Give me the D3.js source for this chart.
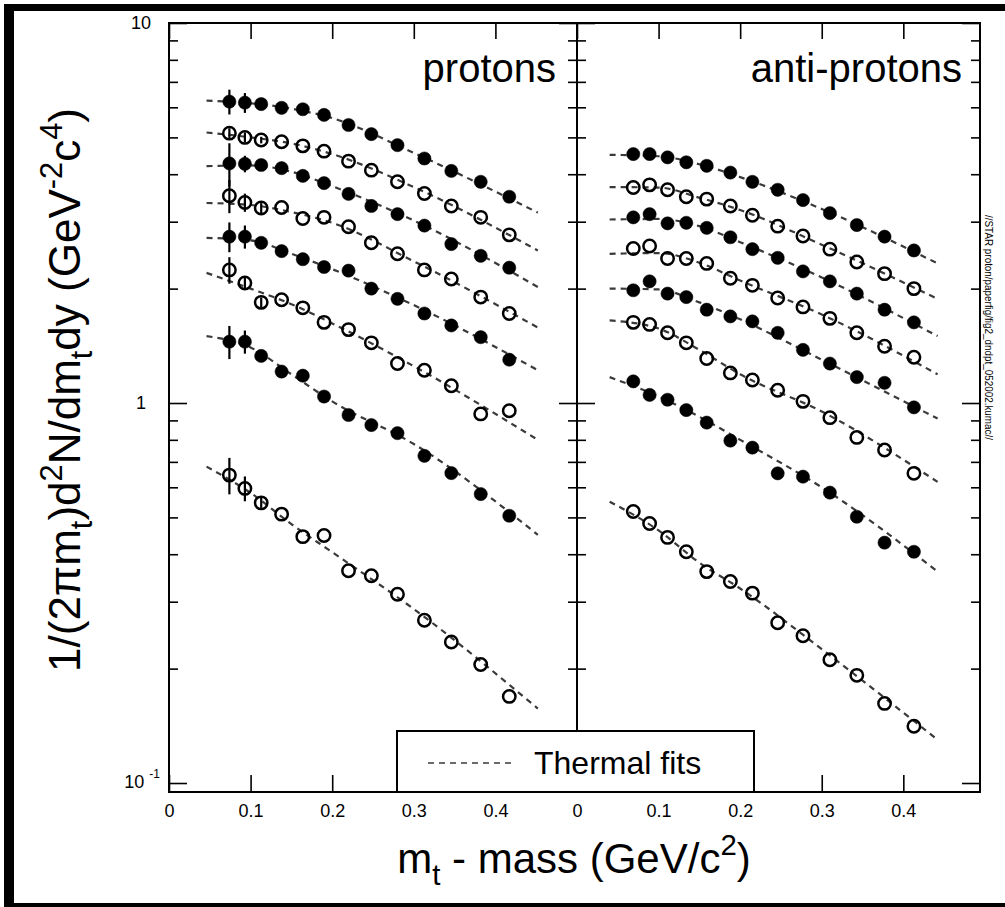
<!DOCTYPE html>
<html><head><meta charset="utf-8">
<script src="https://cdn.jsdelivr.net/npm/d3@7"></script>
<style>
body{margin:0;background:#fff}
svg{display:block}
text{font-family:"Liberation Sans",Arial,Helvetica,sans-serif;fill:#000}
</style>
</head><body><svg id="c" width="1005" height="907"></svg>
<script>
// ---------------- data ----------------
const xProtons = [0.074,0.093,0.113,0.138,0.164,0.190,0.220,0.248,0.280,0.313,0.346,0.382,0.417];
const xAntiProtons = [0.069,0.089,0.111,0.134,0.159,0.188,0.215,0.246,0.277,0.310,0.343,0.377,0.413];

const protons1 = [6.21,6.17,6.12,5.98,5.93,5.73,5.39,5.10,4.77,4.40,4.08,3.82,3.49];
const protons2 = [5.13,5.00,4.92,4.87,4.75,4.60,4.33,4.10,3.82,3.56,3.30,3.08,2.77];
const protons3 = [4.27,4.26,4.23,4.15,3.96,3.79,3.55,3.30,3.14,2.93,2.62,2.44,2.27];
const protons4 = [3.51,3.37,3.26,3.27,3.06,3.08,2.91,2.64,2.47,2.24,2.12,1.90,1.72];
const protons5 = [2.74,2.74,2.64,2.51,2.39,2.28,2.23,2.00,1.88,1.72,1.60,1.49,1.30];
const protons6 = [2.24,2.07,1.84,1.87,1.78,1.63,1.56,1.44,1.27,1.22,1.11,0.936,0.954];
const protons7 = [1.45,1.45,1.33,1.21,1.18,1.04,0.930,0.875,0.833,0.726,0.654,0.576,0.505];
const protons8 = [0.646,0.596,0.546,0.510,0.445,0.448,0.362,0.351,0.314,0.268,0.235,0.205,0.169];

// relative errors of the first points (others are hidden by markers)
const protonErr1 = [0.075,0.06,0.03];
const protonErr2 = [0.03,0.03,0.02];
const protonErr3 = [0.13,0.05,0.03];
const protonErr4 = [0.10,0.055,0.03];
const protonErr5 = [0.09,0.07,0.03];
const protonErr6 = [0.08,0.04,0.03];
const protonErr7 = [0.10,0.07,0.03];
const protonErr8 = [0.11,0.075,0.03];

const anti1 = [4.52,4.52,4.43,4.30,4.21,4.04,3.82,3.64,3.42,3.16,2.94,2.74,2.52];
const anti2 = [3.69,3.75,3.64,3.49,3.44,3.30,3.12,2.92,2.75,2.54,2.35,2.19,2.00];
const anti3 = [3.08,3.14,2.97,2.98,2.89,2.73,2.54,2.41,2.22,2.09,1.94,1.76,1.63];
const anti4 = [2.55,2.59,2.40,2.40,2.33,2.13,2.04,1.89,1.79,1.67,1.53,1.41,1.32];
const anti5 = [1.98,2.09,1.94,1.90,1.76,1.69,1.64,1.53,1.38,1.27,1.17,1.13,0.974];
const anti6 = [1.63,1.61,1.53,1.44,1.31,1.20,1.15,1.08,1.01,0.915,0.812,0.752,0.653];
const anti7 = [1.14,1.05,1.02,0.958,0.888,0.796,0.763,0.653,0.640,0.581,0.502,0.429,0.406];
const anti8 = [0.518,0.482,0.443,0.406,0.360,0.339,0.316,0.264,0.244,0.211,0.192,0.162,0.141];

const seriesFilled = [true,false,true,false,true,false,true,false];

// thermal fit curves (knots)
const fitXProtons = [0.046,0.10,0.15,0.20,0.30,0.452];
const protonFit1 = [6.25,6.15,5.95,5.62,4.55,3.17];
const protonFit2 = [5.15,5.00,4.82,4.52,3.70,2.52];
const protonFit3 = [4.20,4.22,4.06,3.72,3.02,2.02];
const protonFit4 = [3.36,3.32,3.18,2.98,2.36,1.58];
const protonFit5 = [2.72,2.68,2.47,2.25,1.81,1.22];
const protonFit6 = [2.20,2.00,1.82,1.62,1.25,0.80];
const protonFit7 = [1.50,1.40,1.19,1.01,0.78,0.45];
const protonFit8 = [0.68,0.58,0.48,0.405,0.287,0.157];

const fitXAnti = [0.040,0.10,0.15,0.20,0.30,0.442];
const antiFit1 = [4.50,4.46,4.25,3.93,3.24,2.33];
const antiFit2 = [3.70,3.69,3.47,3.22,2.61,1.88];
const antiFit3 = [3.04,3.05,2.92,2.65,2.14,1.50];
const antiFit4 = [2.47,2.48,2.34,2.10,1.71,1.19];
const antiFit5 = [2.00,1.99,1.84,1.66,1.30,0.91];
const antiFit6 = [1.65,1.57,1.38,1.19,0.95,0.62];
const antiFit7 = [1.17,1.04,0.92,0.80,0.60,0.36];
const antiFit8 = [0.55,0.462,0.38,0.325,0.225,0.13];

const xTickValues = [0,0.1,0.2,0.3,0.4];
const yMajorTicks = [0.1,1,10];
const yMinorTicks = [0.2,0.3,0.4,0.5,0.6,0.7,0.8,0.9,2,3,4,5,6,7,8,9];
const panelTitles = ["protons","anti-protons"];
const legendLabel = "Thermal fits";
const stampText = "//STAR proton/paperfig/fig2_dndpt_052002.kumac//";

// ---------------- layout ----------------
const svg = d3.select("#c");
const plotTop = 23, plotBottom = 792;
const y = d3.scaleLog().domain([0.0947,10]).range([plotBottom, plotTop]);
const xL = d3.scaleLinear().domain([0,0.5]).range([169,577]);
const xR = d3.scaleLinear().domain([0,0.494]).range([577,980]);

// outer thick border (left, top, bottom)
svg.append("rect").attr("x",4).attr("y",4).attr("width",1001).attr("height",7).attr("fill","#000");
svg.append("rect").attr("x",4).attr("y",4).attr("width",10).attr("height",903).attr("fill","#000");
svg.append("rect").attr("x",4).attr("y",903).attr("width",1001).attr("height",4).attr("fill","#000");

function styleAxis(g){
  g.select(".domain").remove();
  g.selectAll(".tick line").attr("stroke","#000").attr("stroke-width",1.6);
  g.selectAll(".tick text").style("font-size","18px").attr("fill","#000")
   .style("font-family",'"Liberation Sans",Arial,sans-serif');
}

const panels = [
  {x:xL, xs:xProtons, data:[protons1,protons2,protons3,protons4,protons5,protons6,protons7,protons8],
   errs:[protonErr1,protonErr2,protonErr3,protonErr4,protonErr5,protonErr6,protonErr7,protonErr8],
   fitX:fitXProtons, fits:[protonFit1,protonFit2,protonFit3,protonFit4,protonFit5,protonFit6,protonFit7,protonFit8],
   title:panelTitles[0], titleEnd:556},
  {x:xR, xs:xAntiProtons, data:[anti1,anti2,anti3,anti4,anti5,anti6,anti7,anti8],
   errs:null,
   fitX:fitXAnti, fits:[antiFit1,antiFit2,antiFit3,antiFit4,antiFit5,antiFit6,antiFit7,antiFit8],
   title:panelTitles[1], titleEnd:962}
];

const fmt = d => d===0 ? "0" : d3.format(".1f")(d);

panels.forEach(p => {
  const [x0,x1] = p.x.range();
  svg.append("g").attr("transform",`translate(0,${plotBottom})`)
    .call(d3.axisBottom(p.x).tickValues(xTickValues).tickSizeInner(-17).tickSizeOuter(0).tickPadding(12).tickFormat(fmt))
    .call(styleAxis);
  svg.append("g").attr("transform",`translate(0,${plotTop})`)
    .call(d3.axisTop(p.x).tickValues(xTickValues).tickSizeInner(-16).tickSizeOuter(0).tickFormat(""))
    .call(styleAxis);
  svg.append("g").attr("transform",`translate(${x0},0)`)
    .call(d3.axisLeft(y).tickValues(yMajorTicks).tickSizeInner(-18).tickSizeOuter(0).tickFormat(""))
    .call(styleAxis);
  svg.append("g").attr("transform",`translate(${x0},0)`)
    .call(d3.axisLeft(y).tickValues(yMinorTicks).tickSizeInner(-9).tickSizeOuter(0).tickFormat(""))
    .call(styleAxis);
  svg.append("g").attr("transform",`translate(${x1},0)`)
    .call(d3.axisRight(y).tickValues(yMajorTicks).tickSizeInner(-18).tickSizeOuter(0).tickFormat(""))
    .call(styleAxis);
  svg.append("g").attr("transform",`translate(${x1},0)`)
    .call(d3.axisRight(y).tickValues(yMinorTicks).tickSizeInner(-9).tickSizeOuter(0).tickFormat(""))
    .call(styleAxis);

  svg.append("rect").attr("x",x0).attr("y",plotTop).attr("width",x1-x0).attr("height",plotBottom-plotTop)
    .attr("fill","none").attr("stroke","#000").attr("stroke-width",2);

  const line = d3.line().x(d=>p.x(d[0])).y(d=>y(d[1])).curve(d3.curveMonotoneX);
  p.fits.forEach(f => {
    svg.append("path").attr("d", line(p.fitX.map((xv,i)=>[xv,f[i]])))
      .attr("fill","none").attr("stroke","#3a3a3a").attr("stroke-width",2.2)
      .attr("stroke-dasharray","6,5");
  });

  if (p.errs) {
    p.data.forEach((s,si) => {
      p.errs[si].forEach((e,i) => {
        svg.append("line")
          .attr("x1",p.x(p.xs[i])).attr("x2",p.x(p.xs[i]))
          .attr("y1",y(s[i]*(1+e))).attr("y2",y(s[i]*(1-e)))
          .attr("stroke","#000").attr("stroke-width",2.2);
      });
    });
  }

  p.data.forEach((s,si) => {
    const filled = seriesFilled[si];
    svg.append("g").selectAll("circle").data(s).join("circle")
      .attr("cx",(d,i)=>p.x(p.xs[i])).attr("cy",d=>y(d))
      .attr("r", filled ? 6.6 : 6.2)
      .attr("fill", filled ? "#000" : "none")
      .attr("stroke","#000").attr("stroke-width", filled ? 0.5 : 2.5);
  });

  svg.append("text").attr("x",p.titleEnd).attr("y",82).attr("text-anchor","end")
    .style("font-size","40px").text(p.title);
});

// y tick labels (left only)
const yLab = svg.append("g").style("font-size","18px");
yLab.append("text").attr("x",151).attr("y",y(10)+6).attr("text-anchor","end").text("10");
yLab.append("text").attr("x",146).attr("y",y(1)+6).attr("text-anchor","end").text("1");
const tm = yLab.append("text").attr("x",160).attr("y",y(0.1)+5).attr("text-anchor","end");
tm.append("tspan").text("10");
tm.append("tspan").attr("dx",5).attr("dy",-10).style("font-size","12px").text("-1");

function rich(sel, parts, fs){
  let cur = 0;
  parts.forEach(([t,kind]) => {
    const target = kind==="sub" ? 0.28*fs : kind==="sup" ? -0.42*fs : 0;
    const ts = sel.append("tspan").attr("dy", target-cur).text(t);
    if (kind) ts.style("font-size", (0.7*fs)+"px");
    cur = target;
  });
}

const yt = svg.append("text").attr("transform","translate(80,390) rotate(-90)")
  .attr("text-anchor","middle").style("font-size","44px");
rich(yt, [["1/(2πm"],["t","sub"],[")d"],["2","sup"],["N/dm"],["t","sub"],["dy (GeV"],["-2","sup"],["c"],["4","sup"],[")"]], 44);

const xt = svg.append("text").attr("x",574).attr("y",873).attr("text-anchor","middle").style("font-size","42px");
rich(xt, [["m"],["t","sub"],[" - mass (GeV/c"],["2","sup"],[")"]], 42);

svg.append("rect").attr("x",397).attr("y",731).attr("width",357).attr("height",plotBottom-731)
  .attr("fill","#fff").attr("stroke","#000").attr("stroke-width",2);
svg.append("line").attr("x1",428).attr("x2",514).attr("y1",763).attr("y2",763)
  .attr("stroke","#3a3a3a").attr("stroke-width",1.6).attr("stroke-dasharray","6,5");
svg.append("text").attr("x",534).attr("y",774).style("font-size","32px").text(legendLabel);

svg.append("text").attr("transform","translate(985,215) rotate(90)")
  .style("font-size","11px").attr("textLength",225).attr("lengthAdjust","spacingAndGlyphs")
  .text(stampText);
</script>
</body></html>
